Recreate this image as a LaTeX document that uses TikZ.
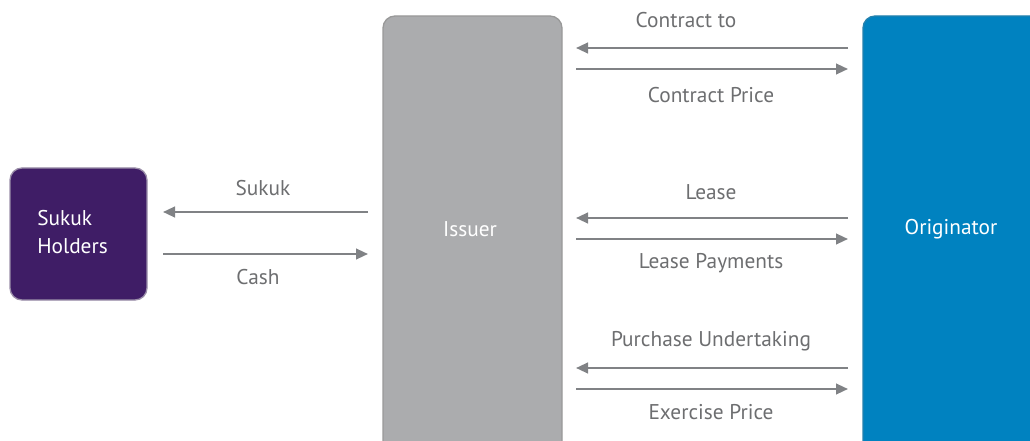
\documentclass[tikz,border=0pt]{standalone}
\usepackage{fontspec}
\setmainfont{PT Sans}
\usetikzlibrary{arrows.meta}
\definecolor{purp}{HTML}{3F1D66}
\definecolor{issuergrey}{HTML}{ABACAE}
\definecolor{origblue}{HTML}{0082C0}
\definecolor{arrgrey}{HTML}{808285}
\definecolor{txtgrey}{HTML}{6D6E70}
\tikzset{
  party/.style={rounded corners=9pt, line width=1pt},
  arr/.style={draw=arrgrey, line width=1.6pt, -{Triangle[length=9pt,width=8pt]}},
  lbl/.style={text=txtgrey, font=\fontsize{16pt}{21pt}\selectfont, inner sep=0pt},
  wlbl/.style={text=white, font=\fontsize{16pt}{21pt}\selectfont, inner sep=0pt}
}
\begin{document}
\begin{tikzpicture}[x=0.75pt,y=-0.75pt]
\useasboundingbox (0,0) rectangle (1030,441);
\clip (0,0) rectangle (1030,441);
% boxes
\draw[party, fill=purp, draw=purp!60!gray!60] (10,168) rectangle (147,300);
\node[wlbl, align=left, anchor=west] (holders) at (37,232) {Sukuk\\Holders};
\draw[party, fill=issuergrey, draw=gray!80] (383,16) rectangle (562,460);
\node[wlbl] (issuer) at (470,229) {Issuer};
\draw[party, fill=origblue, draw=origblue!70!gray] (863,16) rectangle (1060,460);
\node[wlbl] (orig) at (951,229) {Originator};
% arrow endpoints
\coordinate (sL) at (163,212); \coordinate (sR) at (368,212);
\coordinate (cL) at (163,254); \coordinate (cR) at (368,254);
\coordinate (a1L) at (576,48); \coordinate (a1R) at (848,48);
\coordinate (a2L) at (576,69); \coordinate (a2R) at (848,69);
\coordinate (b1L) at (576,218); \coordinate (b1R) at (848,218);
\coordinate (b2L) at (576,239); \coordinate (b2R) at (848,239);
\coordinate (c1L) at (576,368); \coordinate (c1R) at (848,368);
\coordinate (c2L) at (576,389); \coordinate (c2R) at (848,389);
\draw[arr] (sR) -- (sL);
\draw[arr] (cL) -- (cR);
\draw[arr] (a1R) -- (a1L);
\draw[arr] (a2L) -- (a2R);
\draw[arr] (b1R) -- (b1L);
\draw[arr] (b2L) -- (b2R);
\draw[arr] (c1R) -- (c1L);
\draw[arr] (c2L) -- (c2R);
% labels
\node[lbl] (tsukuk) at (263,188) {Sukuk};
\node[lbl] (tcash) at (258,277) {Cash};
\node[lbl] (tct) at (686,20) {Contract to};
\node[lbl] (tcp) at (711,95) {Contract Price};
\node[lbl] (tl) at (711,192) {Lease};
\node[lbl] (tlp) at (711,263) {Lease Payments};
\node[lbl] (tpu) at (711,341) {Purchase Undertaking};
\node[lbl] (tep) at (711,412) {Exercise Price};
\end{tikzpicture}
\end{document}
